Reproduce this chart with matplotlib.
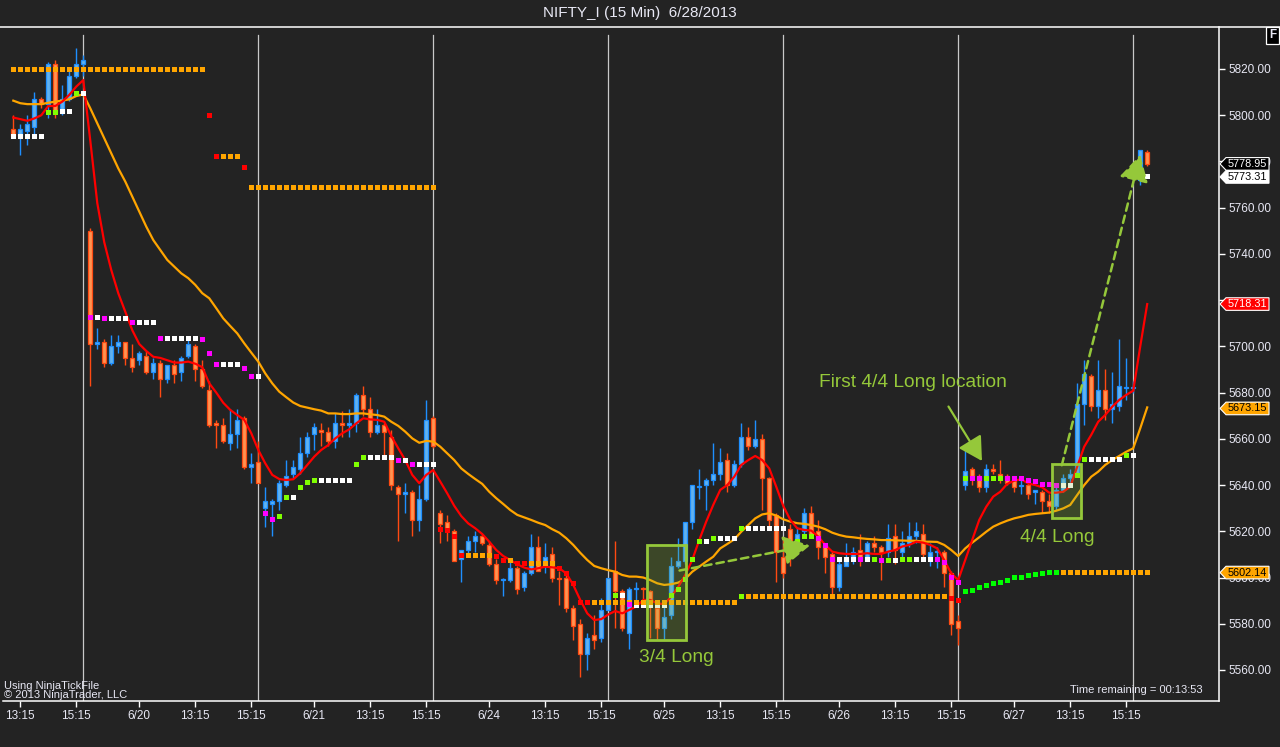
import matplotlib
matplotlib.use('Agg')
import matplotlib.pyplot as plt
import matplotlib.transforms as mtransforms
from matplotlib.patches import Rectangle, Polygon, FancyArrowPatch
from matplotlib.lines import Line2D

plt.rcParams['font.family'] = ['Liberation Sans', 'DejaVu Sans']

# ---- data (15 min bars, 6/19 13:00 .. 6/28 9:45) ----
opens = [5794, 5791, 5793, 5795, 5807, 5805, 5822, 5801, 5807, 5817, 5822,
         5750, 5701, 5702, 5693, 5700, 5702, 5695, 5694, 5696, 5689, 5693, 5686, 5692, 5689, 5696, 5700, 5690, 5681, 5667, 5666, 5658, 5662, 5669, 5648, 5650,
         5630, 5632, 5633, 5640, 5645, 5647, 5654, 5662, 5664, 5663, 5659, 5667, 5666, 5667, 5679, 5673, 5663, 5666, 5661, 5639, 5636, 5637, 5625, 5634, 5669,
         5628, 5624, 5620, 5608, 5612, 5616, 5618, 5614, 5606, 5599, 5599, 5604, 5596, 5602, 5613, 5605, 5610, 5600, 5600, 5587, 5580, 5567, 5575, 5574, 5586,
         5603, 5594, 5576, 5595, 5595.5, 5594, 5587, 5578, 5584, 5605, 5607, 5624, 5639, 5640, 5642, 5645, 5651, 5640, 5649, 5661, 5657, 5660, 5643, 5627, 5609,
         5621, 5614, 5620, 5628, 5620, 5614, 5610, 5596, 5605, 5608, 5612, 5608, 5615, 5613, 5611, 5618, 5611, 5615, 5618, 5619, 5609, 5611, 5611, 5602, 5581,
         5640, 5647, 5644, 5639, 5647, 5645, 5644, 5642, 5639.5, 5640, 5637, 5637, 5633, 5631, 5638, 5643, 5645, 5675, 5687, 5674, 5681, 5673, 5674, 5682, 5682,
         5772, 5784]
highs = [5800, 5796, 5800, 5810, 5808, 5823, 5824, 5813, 5821, 5829, 5826,
         5751, 5708, 5703, 5705, 5705, 5702, 5701, 5698, 5698, 5695, 5694, 5692, 5694, 5696, 5703, 5701, 5694, 5685, 5668, 5669, 5673, 5673, 5670, 5654, 5659,
         5639, 5634, 5642, 5651, 5651, 5661, 5663, 5667, 5667, 5665, 5671, 5672, 5673, 5680, 5683, 5678, 5673, 5667, 5664, 5640, 5641, 5638, 5640, 5677, 5670,
         5629, 5627, 5621, 5612, 5618, 5620, 5619, 5616, 5608, 5600, 5607, 5605, 5603, 5619, 5618, 5615, 5613, 5603, 5601, 5588, 5582, 5576, 5584, 5591, 5600,
         5616, 5595, 5596, 5598, 5596, 5594.5, 5589, 5588, 5609, 5617, 5624, 5640, 5647, 5643, 5658, 5656, 5654, 5651, 5667, 5665, 5668, 5662, 5643.5, 5628, 5617,
         5623, 5622, 5630, 5631, 5625, 5615, 5611, 5608, 5615, 5613, 5619, 5616, 5618, 5614, 5623, 5623, 5620, 5624, 5624, 5623, 5615, 5613, 5612, 5603, 5584,
         5655, 5648, 5645, 5649, 5649, 5651, 5645, 5642.5, 5642, 5641, 5638, 5638, 5636, 5639, 5645, 5647, 5684, 5694, 5688, 5694, 5690, 5689, 5703, 5695, 5685,
         5785, 5785]
lows = [5791, 5783, 5787, 5792, 5803, 5799, 5799, 5800, 5806, 5816, 5817,
        5683, 5699, 5691, 5692, 5697, 5692, 5689, 5692, 5688, 5686, 5678, 5684, 5684, 5685, 5695, 5685, 5682, 5665, 5656, 5658, 5655, 5656, 5647, 5641, 5641,
        5622, 5618, 5629, 5639, 5643, 5645, 5652, 5655, 5657, 5657, 5656, 5661, 5661, 5663, 5670, 5661, 5662, 5653, 5638, 5616, 5628, 5618, 5620, 5633, 5656,
        5615, 5616, 5607, 5598, 5610, 5611, 5614, 5605, 5597, 5592, 5598, 5593, 5594, 5601, 5603, 5602, 5598, 5588, 5585, 5573, 5557, 5560, 5569, 5572, 5586,
        5578, 5577, 5569, 5590, 5590, 5574, 5573, 5573, 5582, 5604, 5606, 5621, 5634, 5629, 5640, 5642, 5637, 5639, 5648, 5655, 5656, 5629, 5621, 5598, 5600,
        5605, 5612, 5618, 5618, 5608, 5602, 5593, 5594, 5605, 5606, 5605, 5607, 5611, 5599, 5609, 5606, 5608, 5613, 5615, 5607, 5605, 5604, 5596, 5575, 5571,
        5638, 5640, 5637, 5637, 5645, 5641, 5640, 5637, 5636, 5634, 5632, 5628, 5628, 5629, 5637, 5639, 5645, 5666, 5672, 5669, 5668, 5667, 5672, 5677, 5680,
        5770, 5778]
closes = [5791, 5794, 5796, 5807, 5805, 5822, 5801, 5807, 5817, 5822, 5824,
          5701, 5702, 5693, 5700, 5702, 5695, 5691, 5697, 5689, 5693, 5686, 5692, 5688, 5695, 5701, 5690, 5683, 5666, 5666, 5659, 5662, 5668, 5648, 5649, 5641,
          5633, 5633, 5641, 5644, 5648, 5654, 5661, 5665, 5663, 5659, 5667, 5666, 5667, 5679, 5673, 5663, 5666, 5663, 5640, 5636, 5637, 5625, 5634, 5668, 5657,
          5623, 5621, 5607, 5612, 5616, 5618, 5615, 5606, 5599, 5599.5, 5604, 5595, 5602, 5613, 5603, 5609, 5600, 5599.5, 5587, 5579, 5567, 5574, 5573, 5586, 5600,
          5594, 5578, 5595, 5595.5, 5595, 5589, 5578, 5583, 5605, 5607, 5624, 5640, 5639.5, 5642, 5645, 5650, 5640, 5649, 5661, 5657, 5660, 5643, 5625, 5611, 5602,
          5613, 5619, 5628, 5619, 5613, 5609, 5596, 5606, 5608, 5611, 5608, 5615, 5613, 5611, 5617, 5612, 5615, 5618, 5620, 5610, 5611, 5611.5, 5602, 5580, 5578,
          5646, 5644, 5639, 5647, 5646, 5644, 5641, 5639, 5640, 5636, 5638, 5633, 5631, 5638, 5643, 5645, 5675, 5688, 5674, 5681, 5673, 5675, 5683, 5682.5, 5682.5,
          5785, 5778.95]

# fast (red) and slow (orange) moving averages
fast_ma = [5799, 5798.3, 5797.6, 5798.6, 5800, 5804, 5804, 5805.9, 5808.8, 5812.4, 5815.2,
           5789, 5762, 5745, 5733, 5723, 5715, 5707, 5701, 5698, 5695.5, 5695, 5694, 5693, 5693, 5693.4, 5692.5, 5691, 5684, 5680, 5675.6, 5672.5, 5670.3, 5668.2, 5662.4, 5655.2,
           5649.4, 5644.4, 5642.6, 5642.2, 5642.5, 5645.1, 5648.7, 5652.3, 5655.2, 5657.3, 5660.2, 5662.4, 5664.1, 5666.7, 5668.9, 5668.4, 5668.2, 5667.4, 5661.2, 5655.9, 5650.8, 5644.4, 5640.8, 5644.4, 5646.5,
           5641.5, 5636.4, 5631, 5626.6, 5623.4, 5621.3, 5618.8, 5615.5, 5611.9, 5609.3, 5607.6, 5605.7, 5604.3, 5603.5, 5604, 5604.7, 5604.4, 5604, 5601.8, 5596.8, 5590.3, 5584.5, 5581.6, 5582, 5584,
           5585.5, 5584.5, 5586, 5587.4, 5590.3, 5590.3, 5588.8, 5588.5, 5591.7, 5596, 5601.1, 5607.6, 5616.2, 5624.2, 5631.4, 5637.9, 5640, 5643.6, 5648.7, 5650.8, 5652.6, 5650.8, 5647.2, 5639.3, 5631,
           5625, 5621.3, 5620.6, 5620.3, 5617.7, 5614.1, 5611.2, 5610.5, 5610.2, 5610.2, 5610.2, 5610.5, 5610.2, 5610.2, 5611.2, 5611.9, 5613.4, 5614.1, 5615.5, 5615.1, 5614.1, 5612.6, 5607.6, 5601.8, 5598.9,
           5607.6, 5616.2, 5624.9, 5630.6, 5635, 5637.1, 5640.5, 5641.9, 5642.5, 5640.7, 5640, 5639, 5636.7, 5636.7, 5637.1, 5639.3, 5648, 5656.6, 5661.7, 5667.4, 5670.3, 5673.9, 5676.8, 5679, 5680.8,
           5699.9, 5718.3]
slow_ma = [5806.3, 5805.2, 5804.8, 5804.8, 5804.8, 5805.4, 5805.9, 5806.3, 5806.9, 5808.3, 5809,
           5803, 5796.5, 5790, 5783.5, 5777, 5771.3, 5764.8, 5758.3, 5751.8, 5746, 5741.7, 5737.4, 5734.5, 5731.6, 5729.5, 5726.6, 5723, 5720.8, 5716.5, 5712.1, 5708.8, 5705.6, 5701.3, 5697.3, 5693.4,
           5688.3, 5684, 5680.4, 5678, 5675.7, 5674.2, 5673.5, 5672.8, 5672.2, 5671, 5671, 5670.7, 5670.7, 5671, 5671, 5670.6, 5670.3, 5669.6, 5667.4, 5665.6, 5663.1, 5660.2, 5658.3, 5659.1, 5658.8,
           5656.6, 5653.7, 5650.8, 5647.2, 5644.8, 5642.6, 5640.5, 5637.1, 5634.3, 5631.8, 5629.2, 5627.1, 5626, 5624.9, 5623.7, 5622.7, 5620.9, 5619.4, 5617, 5614.1, 5610.7, 5607.6, 5605, 5604, 5603.2,
           5602.5, 5601.1, 5600.4, 5600.4, 5600, 5598.9, 5597.5, 5596.8, 5597.1, 5597.8, 5599.4, 5602.5, 5604.7, 5606.9, 5609, 5612.6, 5614.5, 5616.5, 5619.8, 5622.7, 5625.6, 5627.3, 5627.8, 5626.8, 5625.2,
           5624.2, 5623.5, 5623.2, 5622.7, 5622, 5620.9, 5619.4, 5618.4, 5617.7, 5617.4, 5617, 5616.7, 5616.5, 5616.2, 5616.2, 5616.1, 5616, 5615.9, 5615.9, 5615.5, 5615.5, 5615.4, 5614.1, 5611.9, 5609.3,
           5612.6, 5615.1, 5617.4, 5619.8, 5622, 5623.4, 5624.6, 5625.6, 5626.3, 5627.1, 5627.5, 5627.8, 5628.1, 5628.9, 5629.9, 5631.4, 5635.7, 5640, 5643.6, 5645.8, 5648.7, 5650.8, 5652.6, 5654.4, 5655.9,
           5664.5, 5673.6]

# indicator dots: (first bar, last bar, price)
white_runs = [(0, 4, 5791), (7, 8, 5801.8), (10, 10, 5809.8), (12, 12, 5712.7), (14, 16, 5712.2), (18, 20, 5710.5),
              (22, 26, 5703.8), (30, 32, 5692.4), (35, 35, 5687.2), (40, 40, 5634.8), (44, 48, 5642.2), (51, 54, 5652.1),
              (56, 56, 5650.8), (58, 60, 5649.3), (87, 87, 5592.4), (89, 93, 5588.0), (99, 99, 5615.9), (101, 103, 5617.2),
              (105, 110, 5621.6), (118, 120, 5608), (122, 122, 5608), (126, 126, 5607.6), (129, 131, 5608), (150, 151, 5640),
              (154, 158, 5651.3), (160, 160, 5653), (162, 162, 5773.7)]
magenta_runs = [(11, 11, 5712.7), (13, 13, 5712.2), (17, 17, 5710.5), (21, 21, 5703.8), (27, 27, 5703.2), (28, 28, 5697.1),
                (29, 29, 5692.4), (33, 33, 5690.8), (34, 34, 5687.2), (36, 36, 5627.9), (37, 37, 5625.3), (55, 55, 5650.8),
                (57, 57, 5649.3), (88, 88, 5588.4), (111, 111, 5614.1), (115, 115, 5617.2), (116, 116, 5614.1), (117, 117, 5608),
                (121, 121, 5608), (124, 124, 5607.6), (132, 132, 5608), (133, 133, 5606.9), (134, 134, 5600.1), (135, 135, 5598.2),
                (137, 138, 5643), (142, 144, 5643), (145, 145, 5642.2), (146, 146, 5641.7), (147, 148, 5640.5), (149, 149, 5640)]
lime_runs = [(5, 6, 5801.5), (9, 9, 5809.8), (38, 38, 5626.6), (39, 39, 5634.8), (41, 41, 5639.2), (42, 42, 5641.3),
             (43, 43, 5642.2), (49, 49, 5649.3), (50, 50, 5652.1), (86, 86, 5592.4), (94, 94, 5592.4), (95, 95, 5595),
             (96, 96, 5599.4), (97, 97, 5608), (98, 98, 5615.9), (100, 100, 5617.2), (104, 104, 5621.6), (104, 104, 5592),
             (112, 112, 5616), (113, 114, 5618), (123, 123, 5608), (125, 125, 5607.6), (127, 128, 5608), (136, 136, 5643.2),
             (139, 141, 5643.2), (152, 152, 5644.3), (153, 153, 5651.3), (159, 159, 5653), (161, 161, 5773.7)]
red_runs = [(28, 28, 5800), (29, 29, 5782.4), (33, 33, 5777.6), (61, 61, 5621), (62, 62, 5620.6), (63, 63, 5618.1),
            (64, 64, 5609.7), (69, 69, 5609.5), (70, 70, 5607.6), (72, 73, 5606.4), (78, 78, 5604), (79, 79, 5602.1),
            (80, 80, 5597.8), (81, 82, 5589.6), (134, 134, 5591.3), (135, 135, 5590.3)]
orange_runs = [(0, 27, 5820), (30, 32, 5782.4), (34, 60, 5769), (65, 68, 5609.7), (71, 71, 5607.6), (74, 77, 5606.4),
               (83, 103, 5589.5), (105, 133, 5592), (150, 162, 5602.4)]
green_start = 136
green_dots = [5594.2, 5594.6, 5596, 5596.7, 5597.5, 5598.2, 5598.9, 5600.4, 5600.4, 5601.1, 5601.5, 5602.1, 5602.4, 5602.4]

session_end_bars = [10, 35, 60, 85, 110, 135, 160]
tick_bars = [1, 9, 18, 26, 34, 43, 51, 59, 68, 76, 84, 93, 101, 109, 118, 126, 134, 143, 151, 159]
tick_labels = ['13:15', '15:15', '6/20', '13:15', '15:15', '6/21', '13:15', '15:15', '6/24', '13:15', '15:15',
               '6/25', '13:15', '15:15', '6/26', '13:15', '15:15', '6/27', '13:15', '15:15']
price_ticks = list(range(5560, 5821, 20))
hidden_price_labels = [5720]   # fully covered by the red price tag

tag_values = [5778.95, 5773.31, 5718.31, 5673.15, 5602.14]
tag_faces = ['#000000', '#ffffff', '#ff0000', '#ffa500', '#ffa500']
tag_texts = ['#ffffff', '#000000', '#ffffff', '#000000', '#000000']

# ---- figure ----
W, H = 1280, 747
BG = '#232323'
TXT = '#e8e8f4'
GRN = '#95c83a'

fig = plt.figure(figsize=(W / 100, H / 100), dpi=100, facecolor=BG)
ax = fig.add_axes([3 / W, (H - 701.3) / H, (1219.3 - 3) / W, (701.3 - 27) / H], facecolor=BG)

ax.set_xlim(-1.47, 172.3)
ax.set_ylim(5546.45, 5838.17)

for s in ['top', 'left']:
    ax.spines[s].set_visible(False)
for s in ['bottom', 'right']:
    ax.spines[s].set_color('white')
    ax.spines[s].set_linewidth(1.1)

ax.yaxis.tick_right()
ax.set_yticks(price_ticks)
ax.set_yticklabels(['' if p in hidden_price_labels else '%.2f' % p for p in price_ticks])
ax.set_xticks(tick_bars)
ax.set_xticklabels(tick_labels)
ax.tick_params(axis='both', colors='white', labelcolor=TXT, labelsize=8.5, length=4, width=1, pad=2.5)

# session separators
for b in session_end_bars:
    ax.axvline(b, ymax=0.988, color='#c8c8c8', lw=0.9, zorder=1)

# candles
xs = list(range(len(closes)))
for i in xs:
    o, h, l, c = opens[i], highs[i], lows[i], closes[i]
    if c >= o:
        face, edge = '#62b2ee', '#1e8fff'
    else:
        face, edge = '#ff9452', '#ff4a12'
    ax.vlines(i, l, h, color=edge, lw=1.0, zorder=2)
    body = max(abs(c - o), 0.5)
    ax.bar(i, body, bottom=min(o, c), width=0.6, color=face, edgecolor=edge, linewidth=0.9, zorder=3)

# moving averages
ax.plot(xs, slow_ma, color='#ffa500', lw=1.6, zorder=4, solid_joinstyle='round')
ax.plot(xs, fast_ma, color='#ff0000', lw=1.6, zorder=4, solid_joinstyle='round')


def draw_runs(runs, color):
    px, py = [], []
    for a, b, p in runs:
        for k in range(a, b + 1):
            px.append(k)
            py.append(p)
    ax.plot(px, py, ls='none', marker='s', ms=3.6, mew=0, color=color, zorder=5)


draw_runs(white_runs, '#ffffff')
draw_runs(orange_runs, '#ffa500')
draw_runs(magenta_runs, '#ff00ff')
draw_runs(lime_runs, '#80ff00')
draw_runs(red_runs, '#ff0000')
ax.plot(range(green_start, green_start + len(green_dots)), green_dots, ls='none', marker='s', ms=3.6, mew=0,
        color='#00ff00', zorder=5)

# annotations
ax.add_patch(Rectangle((90.5, 5573.0), 5.6, 41.1, facecolor=GRN, alpha=0.22, edgecolor='none', zorder=6))
ax.add_patch(Rectangle((90.5, 5573.0), 5.6, 41.1, facecolor='none', edgecolor=GRN, lw=2.0, zorder=6))
ax.add_patch(Rectangle((148.4, 5625.6), 4.2, 23.4, facecolor=GRN, alpha=0.22, edgecolor='none', zorder=6))
ax.add_patch(Rectangle((148.4, 5625.6), 4.2, 23.4, facecolor='none', edgecolor=GRN, lw=2.0, zorder=6))

ax.text(94.7, 5565.2, '3/4 Long', color=GRN, fontsize=13.8, ha='center', va='center', zorder=7)
ax.text(149.2, 5617.5, '4/4 Long', color=GRN, fontsize=13.8, ha='center', va='center', zorder=7)
ax.text(128.5, 5684.2, 'First 4/4 Long location', color=GRN, fontsize=13.8, ha='center', va='center', zorder=7)

ax.add_patch(FancyArrowPatch((133.4, 5675.0), (138.6, 5649.4), arrowstyle='-|>,head_length=0.8,head_width=0.45',
                             mutation_scale=18, color=GRN, lw=1.6, zorder=7))
ax.add_patch(FancyArrowPatch((94.8, 5602.8), (114.2, 5614.1), arrowstyle='-|>,head_length=0.9,head_width=0.5',
                             mutation_scale=18, color=GRN, lw=1.8, ls=(0, (3, 2)), zorder=7))
ax.add_patch(FancyArrowPatch((149.7, 5647.4), (161.1, 5784.1), arrowstyle='-|>,head_length=0.9,head_width=0.5',
                             mutation_scale=18, color=GRN, lw=1.8, ls=(0, (3, 2)), zorder=7))

# price tags on the right axis
ax_w = 1219.3 - 3


def fx(px):
    return (px - 3) / ax_w


ppp = 2.3115  # pixels per point
trans = mtransforms.blended_transform_factory(ax.transAxes, ax.transData)
for v, fc, tc in zip(tag_values, tag_faces, tag_texts):
    hh = 6.3 / ppp
    pts = [(fx(1220), v), (fx(1226), v + hh), (fx(1269), v + hh), (fx(1269), v - hh), (fx(1226), v - hh)]
    ax.add_patch(Polygon(pts, closed=True, transform=trans, facecolor=fc, edgecolor='white', lw=0.8,
                         clip_on=False, zorder=10))
    ax.text(fx(1227.5), v, '%.2f' % v, transform=trans, color=tc, fontsize=7.8, ha='left', va='center',
            clip_on=False, zorder=11)

# header and footer texts
fig.add_artist(Line2D([0, 1], [(H - 27) / H, (H - 27) / H], color='white', lw=1.1))
fig.text(640 / W, (H - 13) / H, 'NIFTY_I (15 Min)  6/28/2013', color=TXT, fontsize=11, ha='center', va='center')
fig.text(1272.5 / W, (H - 35.5) / H, 'F', color=TXT, fontsize=8.5, ha='center', va='center', fontweight='bold',
         bbox=dict(boxstyle='square,pad=0.25', facecolor='black', edgecolor='white', lw=0.9))
fig.text(4 / W, (H - 686) / H, 'Using NinjaTickFile', color=TXT, fontsize=8, ha='left', va='center')
fig.text(4 / W, (H - 695) / H, '\u00a9 2013 NinjaTrader, LLC', color=TXT, fontsize=8, ha='left', va='center')
fig.text(1203 / W, (H - 690) / H, 'Time remaining = 00:13:53', color=TXT, fontsize=8, ha='right', va='center')

fig.savefig('out.png', dpi=100, facecolor=BG)
